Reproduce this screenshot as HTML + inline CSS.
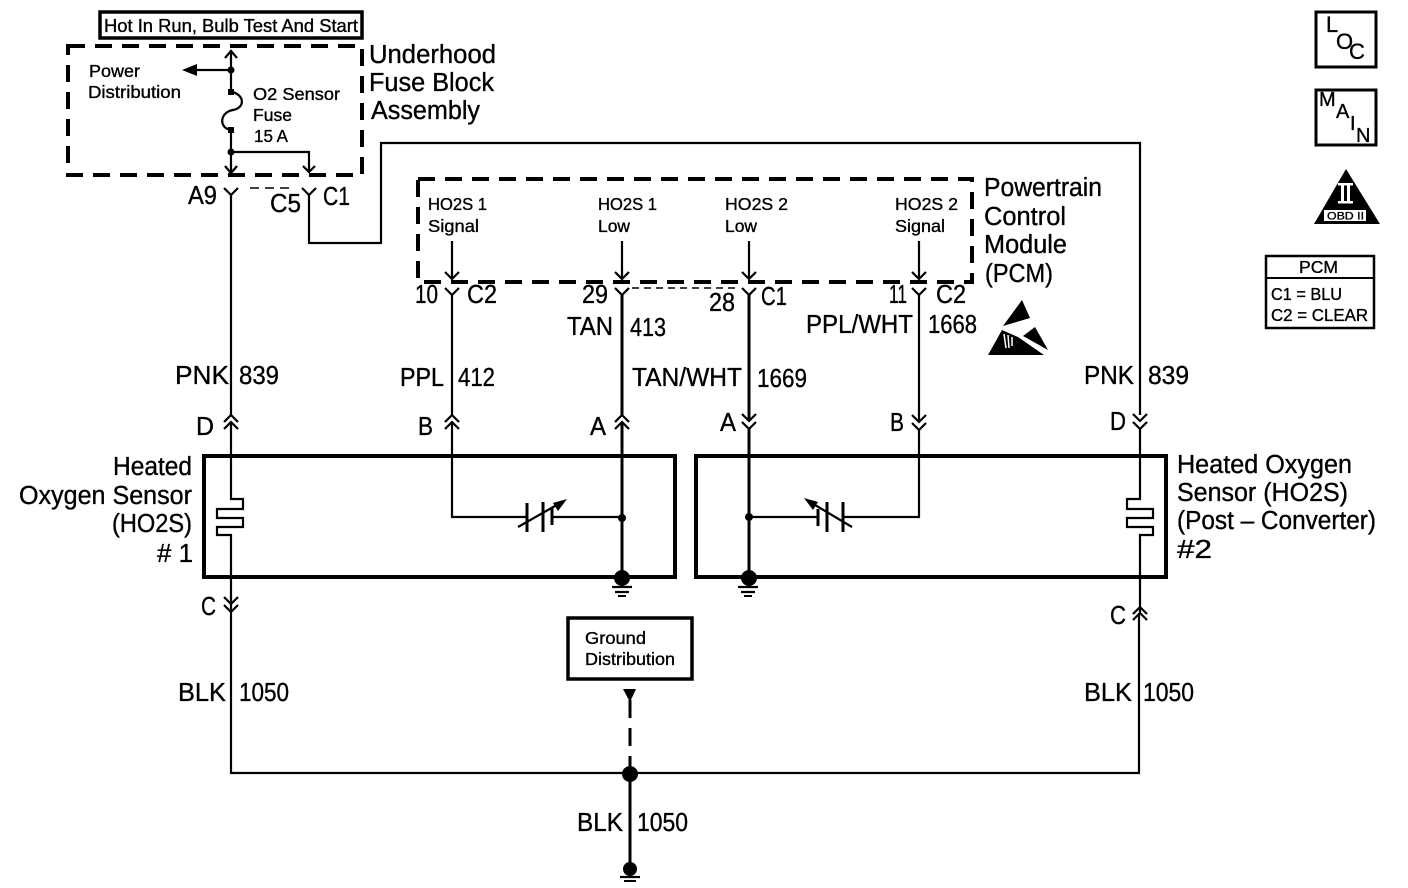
<!DOCTYPE html>
<html><head><meta charset="utf-8"><style>
html,body{margin:0;padding:0;background:#fff}
svg{display:block}
text{font-family:"Liberation Sans",sans-serif;fill:#000;stroke:#000;stroke-width:.35}
.l{font-size:25.500px}.s{font-size:17.500px}
.w{fill:none;stroke:#000;stroke-width:2.200}
.h{fill:none;stroke:#000;stroke-width:3}
.d{fill:none;stroke:#000;stroke-width:4;stroke-dasharray:17 10}
</style></head><body>
<svg xmlns="http://www.w3.org/2000/svg" width="1408" height="888" viewBox="0 0 1408 888">
<rect width="1408" height="888" fill="#fff"/>
<defs>
<g id="y"><path class="w" d="M-7 -6L0 1L7 -6"/></g>
<g id="dn"><path class="w" d="M-7 -7L0 0L7 -7"/></g>
<g id="up"><path class="w" d="M-7 7L0 0L7 7"/></g>
</defs>

<!-- top box -->
<rect x="100" y="12" width="262" height="26" fill="none" stroke="#000" stroke-width="3.5"/>
<text x="104" y="32" font-size="18" textLength="254" lengthAdjust="spacingAndGlyphs">Hot In Run, Bulb Test And Start</text>

<!-- underhood -->
<rect class="d" x="68" y="46" width="294" height="129"/>
<path class="w" d="M231 50V92"/><path class="w" d="M225 58L231 51L237 58" />
<path class="w" d="M231 70H195"/><path d="M182 70L197 64V76Z"/>
<circle cx="231" cy="70" r="3.500"/>
<rect x="228" y="89" width="6" height="6"/>
<path class="w" d="M232 92C245 95 245 108 233 110C220 112 218 128 231 130"/>
<rect x="228" y="127" width="6" height="6"/>
<path class="w" d="M231 130V174"/><circle cx="231" cy="152" r="3.500"/>
<path class="w" d="M225 166L231 173L237 166"/>
<path class="w" d="M231 152H309V173"/><path class="w" d="M303 166L309 172L315 166"/>
<text x="89" y="77" class="s" textLength="51" lengthAdjust="spacingAndGlyphs">Power</text>
<text x="88" y="98" class="s" textLength="93" lengthAdjust="spacingAndGlyphs">Distribution</text>
<text x="253" y="100" class="s" textLength="87" lengthAdjust="spacingAndGlyphs">O2 Sensor</text>
<text x="253" y="121" class="s" textLength="39" lengthAdjust="spacingAndGlyphs">Fuse</text>
<text x="254" y="142" class="s" textLength="34" lengthAdjust="spacingAndGlyphs">15 A</text>
<text x="369" y="63" class="l" textLength="127" lengthAdjust="spacingAndGlyphs">Underhood</text>
<text x="369" y="91" class="l" textLength="125" lengthAdjust="spacingAndGlyphs">Fuse Block</text>
<text x="371" y="119" class="l" textLength="109" lengthAdjust="spacingAndGlyphs">Assembly</text>

<use href="#y" x="231" y="194"/><use href="#y" x="309" y="194"/>
<path d="M250 188H295" fill="none" stroke="#000" stroke-width="1.500" stroke-dasharray="9 6"/>
<path class="w" d="M231 194V415"/>
<path class="w" d="M309 194V243H381V143H1140V415"/>
<text x="188" y="204" class="l" textLength="29" lengthAdjust="spacingAndGlyphs">A9</text>
<text x="270" y="212" class="l" textLength="31" lengthAdjust="spacingAndGlyphs">C5</text>
<text x="323" y="205" class="l" textLength="27" lengthAdjust="spacingAndGlyphs">C1</text>

<!-- PCM -->
<rect class="d" x="418" y="179" width="554" height="103"/>
<text x="428" y="210" class="s" textLength="59" lengthAdjust="spacingAndGlyphs">HO2S 1</text>
<text x="428" y="232" class="s" textLength="51" lengthAdjust="spacingAndGlyphs">Signal</text>
<text x="598" y="210" class="s" textLength="59" lengthAdjust="spacingAndGlyphs">HO2S 1</text>
<text x="598" y="232" class="s" textLength="32" lengthAdjust="spacingAndGlyphs">Low</text>
<text x="725" y="210" class="s" textLength="63" lengthAdjust="spacingAndGlyphs">HO2S 2</text>
<text x="725" y="232" class="s" textLength="32" lengthAdjust="spacingAndGlyphs">Low</text>
<text x="895" y="210" class="s" textLength="63" lengthAdjust="spacingAndGlyphs">HO2S 2</text>
<text x="895" y="232" class="s" textLength="50" lengthAdjust="spacingAndGlyphs">Signal</text>
<text x="984" y="196" class="l" textLength="118" lengthAdjust="spacingAndGlyphs">Powertrain</text>
<text x="984" y="225" class="l" textLength="82" lengthAdjust="spacingAndGlyphs">Control</text>
<text x="984" y="253" class="l" textLength="83" lengthAdjust="spacingAndGlyphs">Module</text>
<text x="985" y="282" class="l" textLength="68" lengthAdjust="spacingAndGlyphs">(PCM)</text>

<path class="w" d="M452 241V279M622 241V279M749 241V279M919 241V279"/>
<path class="w" d="M445 272L452 279L459 272M615 272L622 279L629 272M742 272L749 279L756 272M912 272L919 279L926 272"/>
<use href="#y" x="452" y="294"/><use href="#y" x="622" y="294"/><use href="#y" x="749" y="294"/><use href="#y" x="919" y="294"/>
<path d="M632 288H740" fill="none" stroke="#000" stroke-width="1.500" stroke-dasharray="7 5"/>

<path class="w" d="M452 294V415"/>
<path class="h" d="M622 294V415"/>
<path class="h" d="M749 294V421"/>
<path class="w" d="M919 294V422"/>

<text x="415" y="303" class="l" textLength="23" lengthAdjust="spacingAndGlyphs">10</text>
<text x="467" y="303" class="l" textLength="30" lengthAdjust="spacingAndGlyphs">C2</text>
<text x="582" y="303" class="l" textLength="26" lengthAdjust="spacingAndGlyphs">29</text>
<text x="709" y="311" class="l" textLength="26" lengthAdjust="spacingAndGlyphs">28</text>
<text x="761" y="305" class="l" textLength="26" lengthAdjust="spacingAndGlyphs">C1</text>
<text x="889" y="303" class="l" textLength="18" lengthAdjust="spacingAndGlyphs">11</text>
<text x="936" y="303" class="l" textLength="30" lengthAdjust="spacingAndGlyphs">C2</text>
<text x="567" y="335" class="l" textLength="46" lengthAdjust="spacingAndGlyphs">TAN</text>
<text x="630" y="336" class="l" textLength="36" lengthAdjust="spacingAndGlyphs">413</text>
<text x="632" y="386" class="l" textLength="110" lengthAdjust="spacingAndGlyphs">TAN/WHT</text>
<text x="757" y="387" class="l" textLength="50" lengthAdjust="spacingAndGlyphs">1669</text>
<text x="806" y="333" class="l" textLength="107" lengthAdjust="spacingAndGlyphs">PPL/WHT</text>
<text x="928" y="333" class="l" textLength="49" lengthAdjust="spacingAndGlyphs">1668</text>
<text x="400" y="386" class="l" textLength="44" lengthAdjust="spacingAndGlyphs">PPL</text>
<text x="458" y="386" class="l" textLength="37" lengthAdjust="spacingAndGlyphs">412</text>
<text x="175" y="384" class="l" textLength="54" lengthAdjust="spacingAndGlyphs">PNK</text>
<text x="239" y="384" class="l" textLength="40" lengthAdjust="spacingAndGlyphs">839</text>
<text x="1084" y="384" class="l" textLength="50" lengthAdjust="spacingAndGlyphs">PNK</text>
<text x="1148" y="384" class="l" textLength="41" lengthAdjust="spacingAndGlyphs">839</text>

<!-- ESD -->
<path d="M1022 300L1030 318L1003 326Z"/>
<path d="M988 355L1002 330L1018 337L1044 355Z"/>
<path d="M1035 327L1048 350L1023 336Z"/>
<path d="M1004 334l2 14M1008 335l1 13M1012 337l0 9" stroke="#fff" stroke-width="1.500" fill="none"/>

<!-- connector chevrons -->
<use href="#up" x="231" y="415"/><use href="#up" x="231" y="422"/>
<use href="#up" x="452" y="415"/><use href="#up" x="452" y="422"/>
<use href="#up" x="622" y="415"/><use href="#up" x="622" y="422"/>
<use href="#dn" x="749" y="421"/><use href="#dn" x="749" y="429"/>
<use href="#dn" x="919" y="422"/><use href="#dn" x="919" y="430"/>
<use href="#dn" x="1140" y="421"/><use href="#dn" x="1140" y="429"/>
<use href="#dn" x="231" y="604"/><use href="#dn" x="231" y="612"/>
<use href="#up" x="1140" y="607"/><use href="#up" x="1140" y="613"/>

<text x="196" y="435" class="l" textLength="18" lengthAdjust="spacingAndGlyphs">D</text>
<text x="418" y="435" class="l" textLength="15" lengthAdjust="spacingAndGlyphs">B</text>
<text x="590" y="435" class="l" textLength="16" lengthAdjust="spacingAndGlyphs">A</text>
<text x="720" y="431" class="l" textLength="16" lengthAdjust="spacingAndGlyphs">A</text>
<text x="890" y="431" class="l" textLength="14" lengthAdjust="spacingAndGlyphs">B</text>
<text x="1110" y="430" class="l" textLength="16" lengthAdjust="spacingAndGlyphs">D</text>
<text x="201" y="615" class="l" textLength="15" lengthAdjust="spacingAndGlyphs">C</text>
<text x="1110" y="624" class="l" textLength="16" lengthAdjust="spacingAndGlyphs">C</text>

<!-- sensor boxes -->
<rect x="204" y="456" width="471" height="121" fill="none" stroke="#000" stroke-width="4"/>
<rect x="696" y="456" width="470" height="121" fill="none" stroke="#000" stroke-width="4"/>

<path class="w" d="M231 422V499H243V509H217V518H243V527H217V535H231V612"/>
<path class="w" d="M1140 429V499H1127V509H1153V518H1127V527H1153V535H1140V613"/>
<path class="w" d="M231 612V773H1139V613"/>

<!-- variable caps -->
<path class="w" d="M452 422V517H527M552 517H622"/>
<path class="h" d="M527 503V532M543 502V532M552 508V525"/>
<path class="w" d="M518 527L562 502"/><path d="M567 499L553 503L558 511Z"/>
<circle cx="622" cy="518" r="4"/>
<path class="w" d="M749 517H818M843 517H919V430"/>
<path class="h" d="M818 509V526M827 502V532M843 502V532"/>
<path class="w" d="M852 527L810 502"/><path d="M804 498L818 502L813 510Z"/>
<circle cx="749" cy="517" r="4"/>

<path class="h" d="M622 422V578M749 429V578"/>
<circle cx="622" cy="578" r="8"/><circle cx="749" cy="578" r="8"/>
<path class="w" d="M612 587H632M615 592H629"/><path d="M618 595h8v2h-8z"/>
<path class="w" d="M738 587H758M741 592H755"/><path d="M744 595h8v2h-8z"/>

<!-- left labels -->
<text x="113" y="475" class="l" textLength="79" lengthAdjust="spacingAndGlyphs">Heated</text>
<text x="19" y="504" class="l" textLength="173" lengthAdjust="spacingAndGlyphs">Oxygen Sensor</text>
<text x="112" y="532" class="l" textLength="80" lengthAdjust="spacingAndGlyphs">(HO2S)</text>
<text x="157" y="562" class="l" textLength="36" lengthAdjust="spacingAndGlyphs"># 1</text>
<!-- right labels -->
<text x="1177" y="473" class="l" textLength="175" lengthAdjust="spacingAndGlyphs">Heated Oxygen</text>
<text x="1177" y="501" class="l" textLength="171" lengthAdjust="spacingAndGlyphs">Sensor (HO2S)</text>
<text x="1177" y="529" class="l" textLength="199" lengthAdjust="spacingAndGlyphs">(Post – Converter)</text>
<text x="1177" y="558" class="l" textLength="35" lengthAdjust="spacingAndGlyphs">#2</text>

<!-- ground distribution -->
<rect x="568" y="618" width="124" height="61" fill="none" stroke="#000" stroke-width="3.500"/>
<text x="585" y="644" class="s" textLength="61" lengthAdjust="spacingAndGlyphs">Ground</text>
<text x="585" y="665" class="s" textLength="90" lengthAdjust="spacingAndGlyphs">Distribution</text>
<path d="M623 689H636L630 702Z"/>
<path d="M630 700V766" fill="none" stroke="#000" stroke-width="3" stroke-dasharray="18 10"/>
<circle cx="630" cy="774" r="8"/>
<path class="h" d="M630 774V868"/>
<circle cx="630" cy="869" r="7"/>
<path class="w" d="M620 877H640"/><path d="M624 880h12v2h-12z"/>

<text x="178" y="701" class="l" textLength="48" lengthAdjust="spacingAndGlyphs">BLK</text>
<text x="239" y="701" class="l" textLength="50" lengthAdjust="spacingAndGlyphs">1050</text>
<text x="1084" y="701" class="l" textLength="48" lengthAdjust="spacingAndGlyphs">BLK</text>
<text x="1143" y="701" class="l" textLength="51" lengthAdjust="spacingAndGlyphs">1050</text>
<text x="577" y="831" class="l" textLength="46" lengthAdjust="spacingAndGlyphs">BLK</text>
<text x="637" y="831" class="l" textLength="51" lengthAdjust="spacingAndGlyphs">1050</text>

<!-- icons -->
<rect x="1316" y="12" width="60" height="55" fill="none" stroke="#000" stroke-width="3"/>
<text x="1326" y="32" font-size="22">L</text>
<text x="1336" y="49" font-size="22">O</text>
<text x="1349" y="59" font-size="22">C</text>
<rect x="1316" y="90" width="60" height="55" fill="none" stroke="#000" stroke-width="3"/>
<text x="1319" y="106" font-size="20">M</text>
<text x="1336" y="118" font-size="20">A</text>
<text x="1350" y="130" font-size="20">I</text>
<text x="1356" y="142" font-size="20">N</text>
<path d="M1346 169L1380 224H1314Z"/>
<rect x="1324" y="210" width="42" height="11" fill="#fff"/>
<text x="1327" y="219.500" font-size="11" textLength="37" lengthAdjust="spacingAndGlyphs">OBD II</text>
<rect x="1338" y="183" width="15" height="2.500" fill="#fff"/>
<rect x="1338" y="201" width="15" height="2.500" fill="#fff"/>
<rect x="1341" y="185" width="3" height="17" fill="#fff"/>
<rect x="1347" y="185" width="3" height="17" fill="#fff"/>
<rect x="1266" y="256" width="108" height="72" fill="none" stroke="#000" stroke-width="2.500"/>
<path d="M1266 278H1374" stroke="#000" stroke-width="2"/>
<text x="1299" y="273" class="s" textLength="39" lengthAdjust="spacingAndGlyphs">PCM</text>
<text x="1271" y="300" class="s" textLength="71" lengthAdjust="spacingAndGlyphs">C1 = BLU</text>
<text x="1271" y="321" class="s" textLength="97" lengthAdjust="spacingAndGlyphs">C2 = CLEAR</text>
</svg>
</body></html>
